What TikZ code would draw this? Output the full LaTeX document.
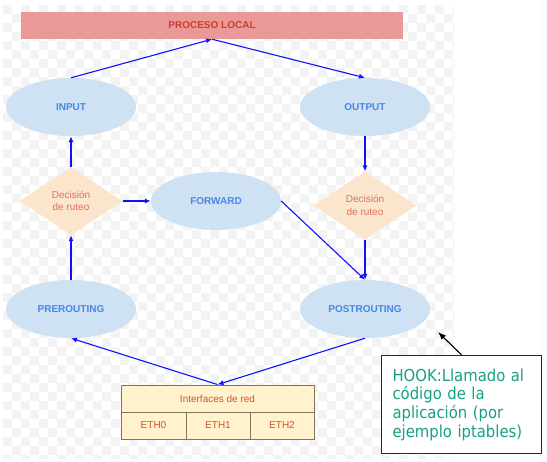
\documentclass[tikz,border=0pt]{standalone}
\usepackage{fontspec}
\setmainfont{Liberation Sans}
\newfontfamily\hookfont[FakeStretch=0.9]{DejaVu Sans}
\usetikzlibrary{shapes.geometric,arrows.meta}
\definecolor{procfill}{HTML}{EA9999}
\definecolor{proctext}{HTML}{CC4125}
\definecolor{ellfill}{HTML}{CFE2F3}
\definecolor{elltext}{HTML}{4A86E8}
\definecolor{diafill}{HTML}{FCE5CD}
\definecolor{diatext}{HTML}{E0705E}
\definecolor{cellfill}{HTML}{FFF2CC}
\definecolor{celldraw}{HTML}{7F7656}
\definecolor{celltext}{HTML}{D9502F}
\definecolor{arrowblue}{HTML}{1010FF}
\definecolor{hooktext}{HTML}{17A085}
\definecolor{checker}{HTML}{F3F3F3}
\tikzset{
  ell/.style={ellipse, fill=ellfill, minimum width=130bp, minimum height=58bp, inner sep=0pt,
    text=elltext, font=\bfseries\fontsize{10bp}{12bp}\selectfont},
  dia/.style={diamond, fill=diafill, minimum width=103bp, minimum height=68bp, inner sep=0pt,
    text=diatext, align=center, font=\fontsize{10bp}{12.3bp}\selectfont},
  cell/.style={rectangle, fill=cellfill, draw=celldraw, line width=0.9bp, minimum height=27bp,
    inner sep=0pt, text=celltext, font=\fontsize{10bp}{12bp}\selectfont},
  conn/.style={draw=arrowblue, line width=1.1bp, -{Latex[length=6bp,width=5bp]}},
}
\begin{document}
\begin{tikzpicture}[x=1bp,y=-1bp]
\useasboundingbox (0,0) rectangle (547,462);
\fill[white] (0,0) rectangle (547,462);
\begin{scope}
\clip (3,5) rectangle (454,458);
\foreach \i in {0,...,50}{
  \pgfmathtruncatemacro\off{mod(\i,2)}
  \foreach \j in {0,...,25}{
    \fill[checker] ({3+\i*9},{5+(2*\j+\off)*9}) rectangle ++(9,9);
  }
}
\end{scope}
\fill[blue!2] (540,0) rectangle (547,462);

\node[rectangle, fill=procfill, minimum width=382bp, minimum height=27bp, inner sep=0pt,
  text=proctext, font=\bfseries\fontsize{10bp}{12bp}\selectfont] (proc) at (212,25.5) {PROCESO LOCAL};

\node[ell] (input) at (71,107) {INPUT};
\node[ell] (output) at (365,107) {OUTPUT};
\node[dia] (dl) at (71,201) {Decisión\\de ruteo};
\node[ell] (fwd) at (216,201) {FORWARD};
\node[dia] (dr) at (365,205.5) {Decisión\\de ruteo};
\node[ell] (pre) at (71,309) {PREROUTING};
\node[ell] (post) at (365,309) {POSTROUTING};

\node[cell, minimum width=193bp] (iface) at (217.5,398.5) {Interfaces de red};
\node[cell, minimum width=65bp] (eth0) at (153.5,425.5) {ETH0};
\node[cell, minimum width=64bp] (eth1) at (218,425.5) {ETH1};
\node[cell, minimum width=64bp] (eth2) at (282,425.5) {ETH2};

\node[rectangle, draw=black!85, line width=1.2bp, fill=white, minimum width=160bp, minimum height=98bp,
  text width=138bp, inner xsep=11bp, inner ysep=0pt, align=left, text=hooktext,
  font=\hookfont\fontsize{16.5bp}{18.7bp}\selectfont] (hook) at (461.5,404.5)
  {HOOK:Llamado al\\código de la\\aplicación (por\\ejemplo iptables)};
\coordinate (hooktip) at (438,332);

\draw[conn] (input.north) -- (proc.south);
\draw[conn] (proc.south) -- (output.north);
\draw[conn] (dl.north) -- (input.south);
\draw[conn] (pre.north) -- (dl.south);
\draw[conn] (dl.east) -- (fwd.west);
\draw[conn] (output.south) -- (dr.north);
\draw[conn] (dr.south) -- (post.north);
\draw[conn] (fwd.east) -- (post.north);
\draw[conn] (post.south) -- (iface.north);
\draw[conn] (iface.north) -- (pre.south);
\draw[black, line width=1.1bp, -{Latex[length=8bp,width=6bp]}] (hook.north) -- (hooktip);
\end{tikzpicture}
\end{document}
